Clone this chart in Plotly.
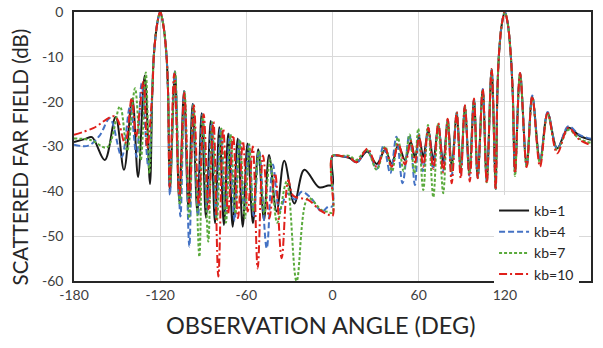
import plotly.graph_objects as go

# ---------------- data ----------------
angle_kb1 = [-180, -172, -167.5, -158.6, -151, -145.2, -139.4, -135.4, -130.8, -127.1, -125.5, -124.3, -122, -120, -118,
             -115.7, -114.5, -113.2, -109.7, -106.7, -103.4, -100.4, -97.4, -94.1, -91.1, -88.1, -84.8, -81.8, -78.8,
             -75.6, -72.6, -69.5, -66.0, -62.5, -59.2, -55.4, -51.7, -47.7, -44.2, -38.9, -33.6, -26.6, -19.6, -9.4,
             -3, 0, 0, 6, 12, 16.8, 24.2, 30.8, 36.6, 41.2, 45.8, 50.5, 54.5, 57.5, 60.3, 63.2, 66.7, 70.2, 73.7, 77.1,
             80.2, 83.0, 86.5, 89.3, 92.2, 95.3, 98.5, 101.1, 104.6, 107.4, 110.8, 113.6, 114.8, 116, 118, 120, 122,
             124, 125.5, 127.1, 130.6, 135.2, 139.1, 144.5, 149.8, 156.5, 164.2, 172, 180]
db_kb1 = [-29.0, -28.3, -27.9, -33.0, -23.4, -35.2, -19.3, -36.8, -14.2, -38.4, -18, -9.2, -2.5, 0, -2.5,
          -9.2, -18, -40, -13.2, -42.3, -17.6, -43.7, -20.5, -44.8, -22.6, -45.9, -24.3, -47.1, -25.7,
          -47.5, -27.1, -47.9, -28.2, -47.9, -29.35, -47.1, -30.6, -46.4, -31.9, -44.5, -33.2, -42.7, -35.2, -39.1,
          -38.7, -38.6, -32.1, -32.2, -32.6, -33.5, -31.1, -33.9, -30.8, -33.8, -29.7, -33.0, -29.0, -32.5, -27.8,
          -32.3, -26.3, -33.0, -25.4, -33.7, -24.1, -34.5, -22.6, -35.2, -21.1, -36.0, -19.6, -36.7, -17.4, -37.5,
          -12.9, -39.0, -18, -9, -2.5, 0, -2.5, -9, -18, -35.6, -13.8, -34.1, -18.9, -33.0, -22.6, -30.4, -25.8,
          -27.6, -28.5]

angle_kb4 = [-180, -170, -162, -155, -146.8, -141, -136.4, -132.9, -128.3, -125.5, -124.3, -122, -120, -118, -115.7,
             -114.5, -113.2, -109.8, -105.9, -103.2, -99.7, -97.0, -93.6, -90.6, -87.3, -84.2, -81.0, -78.0, -74.6,
             -71.6, -68.2, -65.0, -61.5, -58.3, -54.8, -51.2, -45.8, -41.5, -36.8, -31.5, -26.1, -21.5, -15, -7.5,
             -3, 0, 0, 6, 12, 17, 24, 30.8, 35.5, 40.2, 44.5, 48.8, 53.5, 57.4, 60.0, 63.0, 66.7, 70.0, 73.7, 77.0,
             80.2, 83.0, 86.5, 89.3, 92.2, 95.3, 98.5, 101.1, 104.6, 107.4, 110.8, 113.6, 114.8, 116, 118, 120, 122,
             124, 125.5, 127.1, 130.6, 135.2, 139.1, 144.5, 149.8, 156.5, 164.2, 172, 180]
db_kb4 = [-29.6, -29.8, -27.5, -23.7, -32.3, -21.1, -32.3, -15.9, -34.5, -18, -9.2, -2.5, 0, -2.5, -9.2,
          -18, -40.8, -13.3, -45.6, -17.7, -52.3, -20.6, -45.5, -22.8, -44.5, -24.5, -46.0, -26.0, -45.0,
          -27.3, -46.5, -28.6, -44.0, -29.6, -45.5, -30.8, -52.7, -34.0, -44.2, -40.5, -41.8, -40.1, -41.5, -44.5,
          -43.4, -43.3, -32.1, -32.2, -32.4, -33.6, -30.8, -35.0, -29.8, -36.0, -27.8, -38.2, -27.4, -38.6, -27.2,
          -35.5, -25.8, -35.0, -25.1, -35.5, -23.9, -36.5, -22.4, -36.0, -20.9, -36.5, -19.5, -37.0, -17.2, -37.8,
          -12.8, -39.5, -18, -9, -2.5, 0, -2.5, -9, -18, -35.8, -13.6, -34.3, -18.6, -33.2, -22.3, -30.6, -25.5,
          -27.4, -28.3]

angle_kb7 = [-180, -168, -157, -148, -143, -137.5, -133.5, -130, -127.5, -125.5, -124.3, -122, -120, -118, -115.7,
             -114.5, -113.0, -109.6, -106.3, -103.0, -99.8, -96.9, -92.7, -90.3, -86.5, -83.8, -80.5, -77.4, -74.2,
             -71.0, -67.6, -64.5, -61.0, -58.0, -55.0, -51.3, -47.5, -43.5, -38.5, -31.9, -25.0, -17.0, -7.5, -3,
             0, 0, 6, 12, 16.5, 23.8, 30.8, 36.6, 41.5, 45.5, 49.5, 53.7, 57.0, 59.7, 63.2, 66.5, 70.2, 73.5, 77.1,
             80.2, 83.0, 86.5, 89.3, 92.2, 95.3, 98.5, 101.1, 104.6, 107.4, 110.8, 113.6, 114.8, 116, 118, 120, 122,
             124, 125.5, 127.1, 130.6, 135.2, 139.1, 144.5, 149.8, 156.5, 164.2, 172, 180]
db_kb7 = [-28.2, -28.6, -30.2, -21.1, -31.0, -17.0, -33.0, -13.5, -36.0, -18, -9.2, -2.5, 0, -2.5, -9.2,
          -18, -38.5, -13.4, -43.0, -17.8, -46.0, -20.8, -54.6, -23.0, -51.2, -24.6, -46.5, -26.0, -47.0,
          -27.3, -45.0, -28.5, -46.0, -29.5, -44.5, -31.0, -45.0, -33.0, -47.0, -37.8, -60.0, -41.5, -44.2, -44.6,
          -44.8, -32.1, -32.1, -32.1, -33.0, -30.8, -35.2, -30.0, -35.5, -28.0, -35.5, -27.3, -36.0, -26.0, -39.7,
          -25.2, -41.3, -25.0, -40.4, -24.0, -35.5, -22.5, -35.0, -21.0, -36.0, -19.5, -37.0, -17.3, -38.0, -12.8,
          -39.5, -18, -9, -2.5, 0, -2.5, -9, -18, -36.6, -13.8, -34.5, -19.0, -33.8, -22.8, -30.8, -26.3, -28.3,
          -29.2]

angle_kb10 = [-180, -166.6, -151.5, -144.5, -139.8, -136.8, -131.7, -129.0, -125.5, -124.3, -122, -120, -118, -115.7,
              -114.5,
              -113.4, -110.2, -106.6, -103.2, -99.8, -96.5, -93.1, -89.7, -86.3, -82.9, -79.5, -76.1, -72.7, -69.2,
              -65.8, -62.4, -59.0, -55.5, -52.1, -48.4, -44.0, -40.0, -35.4, -30.8, -27.3, -17.0, -8.7, -3, 0,
              0, 6, 12, 16.8, 24.5, 30.8, 36.6, 41.2, 45.8, 50.5, 54.5, 57.5, 60.3, 63.2, 66.7, 70.2, 73.7, 77.1,
              80.2, 83.0, 86.5, 89.3, 92.2, 95.6, 98.5, 101.1, 104.6, 107.4, 110.8, 113.6, 114.8, 116, 118, 120, 122,
              124, 125.5, 127.1, 130.6, 135.2, 139.1, 144.5, 149.8, 156.5, 164.2, 172, 180]
db_kb10 = [-27.4, -25.9, -23.3, -29.3, -19.2, -27.8, -15.5, -30.4, -18, -9.2, -2.5, 0, -2.5, -9.2, -18,
           -39, -13.8, -41, -18.0, -42.5, -20.8, -43, -22.8, -44, -24.5, -59, -26.0, -45, -27.5, -46, -28.8, -44.5,
           -30.0, -57.2, -32.0, -46.0, -36.0, -54.9, -37.5, -41.0, -41.9, -44.2, -45.2, -45.5,
           -32.1, -32.1, -32.5, -33.5, -30.5, -34.5, -30.4, -34.5, -29.4, -34.0, -28.8, -33.5, -27.6, -34.5, -25.8,
           -35.0, -24.8, -35.8, -23.8, -38.2, -22.3, -37.1, -20.8, -37.8, -19.3, -37.1, -17.2, -38.2, -12.7, -39.7,
           -18, -9, -2.5, 0, -2.5, -9, -18, -36.0, -13.6, -34.6, -18.8, -34.5, -22.5, -31.5, -25.8, -28.5, -29.7]

series_names = ["kb=1", "kb=4", "kb=7", "kb=10"]
x_ticks = [-180, -120, -60, 0, 60, 120, 180]
y_ticks = [0, -10, -20, -30, -40, -50, -60]

# ---------------- figure ----------------
for a, b, n in [(angle_kb1, db_kb1, "kb1"), (angle_kb4, db_kb4, "kb4"),
                (angle_kb7, db_kb7, "kb7"), (angle_kb10, db_kb10, "kb10")]:
    if len(a) != len(b):
        raise ValueError(f"{n}: {len(a)} angles vs {len(b)} values")

styles = [
    dict(color="#1a1a1a", width=2, dash="solid"),
    dict(color="#4472C4", width=2, dash="6px,3px"),
    dict(color="#5AAA3C", width=2, dash="3px,2px"),
    dict(color="#E0201B", width=2, dash="8px,3px,2px,3px"),
]

fig = go.Figure()
for (xs, ys), name, st in zip([(angle_kb1, db_kb1), (angle_kb4, db_kb4), (angle_kb7, db_kb7),
                               (angle_kb10, db_kb10)], series_names, styles):
    fig.add_trace(go.Scatter(x=xs, y=ys, mode="lines", name=name,
                             line=dict(color=st["color"], width=st["width"], dash=st["dash"],
                                       shape="spline", smoothing=1.0)))

font_family = "Lato, 'Open Sans', sans-serif"
axis_common = dict(showgrid=True, gridcolor="#d9d9d9", gridwidth=1, showline=True, mirror=True,
                   linecolor="#262626", linewidth=1.5, zeroline=False, ticks="", automargin=False,
                   tickfont=dict(family=font_family, size=14, color="#404040"))

fig.update_layout(
    width=603, height=348,
    margin=dict(l=74, r=12, t=12, b=67, autoexpand=False),
    plot_bgcolor="white", paper_bgcolor="white",
    font=dict(family=font_family, color="#404040"),
    xaxis=dict(range=[-180, 180], tickvals=x_ticks, ticktext=[str(v) for v in x_ticks], **axis_common),
    yaxis=dict(range=[-60, 0], tickvals=y_ticks, ticktext=[str(v) for v in y_ticks],
               ticklabelstandoff=6, **axis_common),
    legend=dict(x=0.8125, y=0.32, xanchor="left", yanchor="top", bgcolor="white",
                font=dict(family=font_family, size=14, color="#262626"), tracegroupgap=0),
    annotations=[
        dict(text="OBSERVATION ANGLE (DEG)", xref="paper", yref="paper", x=0.476, y=-0.165,
             xanchor="center", yanchor="middle", showarrow=False,
             font=dict(family=font_family, size=23.5, color="#262626")),
        dict(text="SCATTERED FAR FIELD (dB)", xref="paper", yref="paper", x=-0.104, y=0.46,
             xanchor="center", yanchor="middle", showarrow=False, textangle=-90,
             font=dict(family=font_family, size=20.5, color="#262626")),
    ],
)

fig.write_html("out.html")
